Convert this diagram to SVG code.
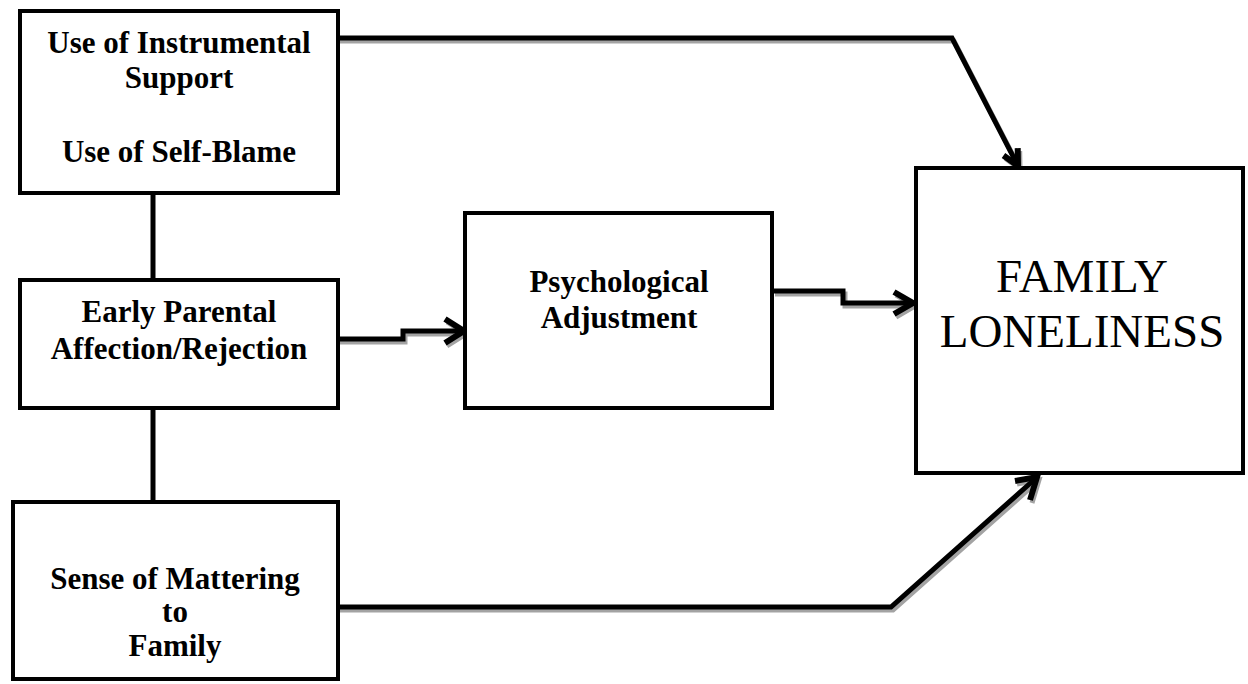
<svg xmlns="http://www.w3.org/2000/svg" width="1248" height="684" viewBox="0 0 1248 684">
  <style>
    .box { fill: #ffffff; stroke: #000000; stroke-width: 4; }
    .lbl { font-family: "Liberation Serif", "Times New Roman", serif; font-weight: bold; font-size: 31px; fill: #000000; text-anchor: middle; }
    .big { font-family: "Liberation Serif", "Times New Roman", serif; font-size: 47px; fill: #000000; text-anchor: middle; }
    .wire { fill: none; stroke: #000000; stroke-width: 5; stroke-linejoin: miter; }
    .head { fill: none; stroke: #000000; stroke-width: 6; stroke-linejoin: miter; }
    .shade { fill: none; stroke: #a3a3a3; stroke-width: 5; stroke-linejoin: miter; }
    .link { fill: none; stroke: #000000; stroke-width: 5; }
  </style>
  <rect width="1248" height="684" fill="#ffffff"/>

  <!-- plain links between the three predictor boxes -->
  <g id="links">
    <line class="link" x1="153" y1="193" x2="153" y2="280"/>
    <line class="link" x1="153" y1="408" x2="153" y2="502"/>
  </g>

  <!-- directed connectors: grey drop shadow first, then the black stroke -->
  <g id="connectors">
    <g transform="translate(2,3)">
      <path class="shade" d="M338,38 H952 L1016,162"/>
      <path class="shade" d="M1003.5,155.5 L1018,166 L1017.7,148.1"/>
      <path class="shade" d="M338,339 H403 V331 H462"/>
      <path class="shade" d="M445,319 L464,331 L445,343"/>
      <path class="shade" d="M773,291 H843 V303 H911"/>
      <path class="shade" d="M894,292 L913,303 L894,314"/>
      <path class="shade" d="M338,607 H891 L1035,479"/>
      <path class="shade" d="M1015,481 L1037,477 L1030,500"/>
    </g>
    <path class="wire" d="M338,38 H952 L1016,162"/>
    <path class="head" d="M1003.5,155.5 L1018,166 L1017.7,148.1"/>
    <path class="wire" d="M338,339 H403 V331 H462"/>
    <path class="head" d="M445,319 L464,331 L445,343"/>
    <path class="wire" d="M773,291 H843 V303 H911"/>
    <path class="head" d="M894,292 L913,303 L894,314"/>
    <path class="wire" d="M338,607 H891 L1035,479"/>
    <path class="head" d="M1015,481 L1037,477 L1030,500"/>
  </g>

  <g id="coping">
    <rect class="box" x="20" y="11" width="318" height="182"/>
    <text class="lbl" x="179" y="53">Use of Instrumental</text>
    <text class="lbl" x="179" y="88">Support</text>
    <text class="lbl" x="179" y="162">Use of Self-Blame</text>
  </g>

  <g id="parental">
    <rect class="box" x="20" y="280" width="318" height="128"/>
    <text class="lbl" x="179" y="322">Early Parental</text>
    <text class="lbl" x="179" y="359">Affection/Rejection</text>
  </g>

  <g id="mattering">
    <rect class="box" x="13" y="502" width="325" height="177"/>
    <text class="lbl" x="175" y="589">Sense of Mattering</text>
    <text class="lbl" x="175" y="622">to</text>
    <text class="lbl" x="175" y="656">Family</text>
  </g>

  <g id="adjustment">
    <rect class="box" x="465" y="213" width="307" height="195"/>
    <text class="lbl" x="619" y="292">Psychological</text>
    <text class="lbl" x="619" y="328">Adjustment</text>
  </g>

  <g id="loneliness">
    <rect class="box" x="916" y="168" width="327" height="305"/>
    <text class="big" x="1082" y="292">FAMILY</text>
    <text class="big" x="1082" y="347">LONELINESS</text>
  </g>
</svg>
